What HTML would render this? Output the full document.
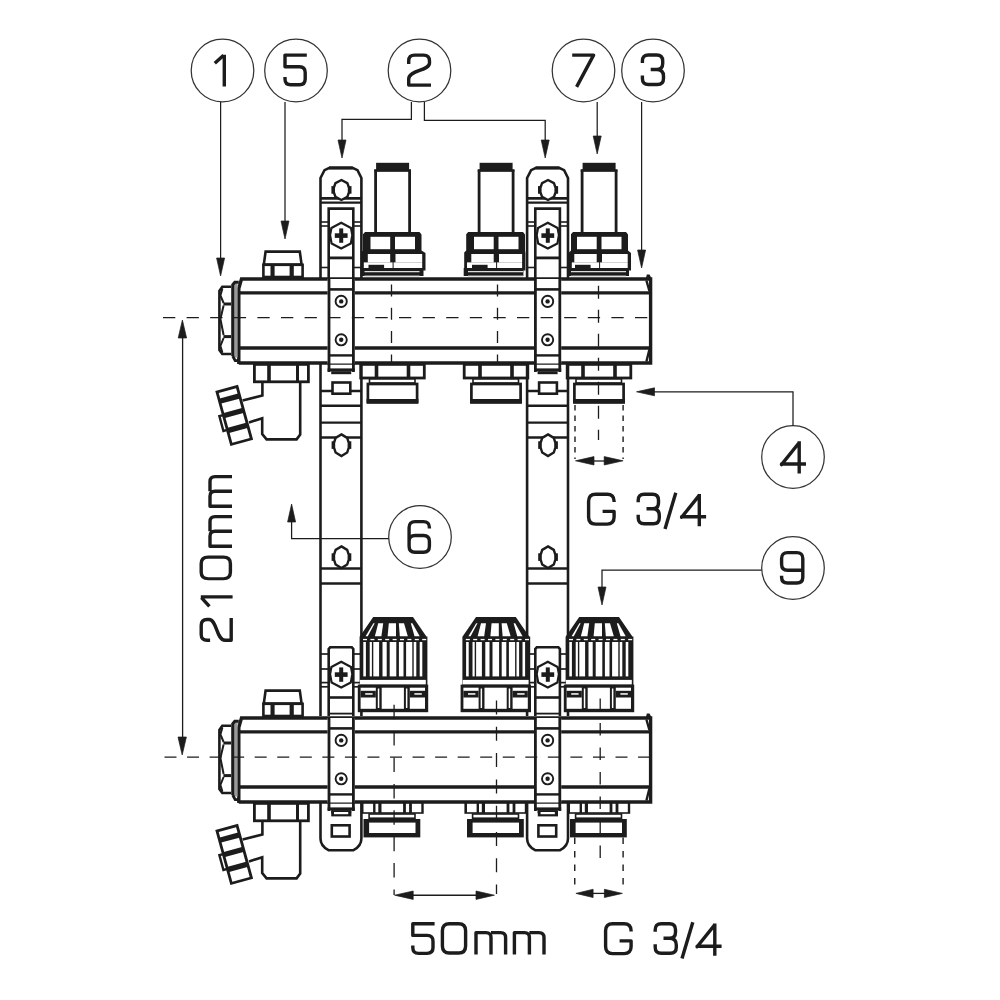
<!DOCTYPE html><html><head><meta charset="utf-8"><style>html,body{margin:0;padding:0;background:#fff}svg{display:block}</style></head><body><svg width="1000" height="1000" viewBox="0 0 1000 1000">
<rect width="1000" height="1000" fill="#fff"/>
<g transform="translate(0,0)">
<path d="M238.8 364 V288.5 L241.5 279 H650.6 V363 H238.8" fill="none" stroke="#1c1c1c" stroke-width="3.4" />
<path d="M646.4 280.5 L649.4 291 M649.4 349.5 L646.4 361.5" fill="none" stroke="#1c1c1c" stroke-width="2.4" />
<polygon points="645.8,279 646.8,274.4 649.6,274.4 652,279.5" fill="#1c1c1c"/>
<line x1="239" y1="292.8" x2="650.6" y2="292.8" stroke="#1c1c1c" stroke-width="3.3" />
<line x1="239" y1="348" x2="650.6" y2="348" stroke="#1c1c1c" stroke-width="3.3" />
<rect x="234" y="283.5" width="3.6" height="74" fill="#9a9a9a"/>
<path d="M232.7 356 V284.8 L234.8 282.2 H238.8" fill="none" stroke="#1c1c1c" stroke-width="3" />
<path d="M232.7 356 L235.2 360.6 H239" fill="none" stroke="#1c1c1c" stroke-width="2.8" />
<path d="M231 286.8 H222.3 L219.4 291 V350 L222.3 354 H231" fill="none" stroke="#1c1c1c" stroke-width="2.6" />
<line x1="223.4" y1="304" x2="231" y2="304" stroke="#1c1c1c" stroke-width="3" />
<line x1="223.4" y1="336.6" x2="231" y2="336.6" stroke="#1c1c1c" stroke-width="3" />
<path d="M222.4 288.5 L220.4 295.5 L223.6 303" fill="none" stroke="#1c1c1c" stroke-width="2" />
<path d="M223.6 305.5 L220.4 319 L223.6 335" fill="none" stroke="#1c1c1c" stroke-width="2" />
<path d="M223.6 338 L220.4 346 L222.4 352.5" fill="none" stroke="#1c1c1c" stroke-width="2" />
<path d="M265.6 251.6 H299.8 L301.6 264.6 H263.8 Z" fill="none" stroke="#1c1c1c" stroke-width="2.6" />
<rect x="263.4" y="264.8" width="39.2" height="12.2" fill="none" stroke="#1c1c1c" stroke-width="2.6" />
<rect x="270.5" y="265" width="4.1" height="12" fill="#1c1c1c"/>
<rect x="289.6" y="265" width="4.2" height="12" fill="#1c1c1c"/>
<rect x="254.4" y="364.4" width="54" height="17.4" fill="none" stroke="#1c1c1c" stroke-width="2.8" />
<rect x="267.2" y="364.5" width="3.6" height="17.3" fill="#1c1c1c"/>
<rect x="296" y="364.5" width="3" height="17.3" fill="#1c1c1c"/>
<path d="M262.4 382 V395.5 L242.6 400.4" fill="none" stroke="#1c1c1c" stroke-width="2.6" />
<path d="M249 422.4 L262.2 418.2 V434 L266.6 439.4 H296.6 L300.2 434.6 V382" fill="none" stroke="#1c1c1c" stroke-width="2.6" />
<g transform="translate(234.2,415.4) rotate(-15.3)">
<rect x="-10.4" y="-27.2" width="20.8" height="54.4" fill="none" stroke="#1c1c1c" stroke-width="2.8" />
<rect x="-10.4" y="-20.2" width="20.8" height="5.4" fill="#1c1c1c"/>
<rect x="-10.4" y="-5.2" width="20.8" height="5.4" fill="#1c1c1c"/>
<rect x="-10.4" y="10.2" width="20.8" height="5.4" fill="#1c1c1c"/>
<path d="M-10.4 -3.2 H-14.5 V12.2 H-10.4" fill="none" stroke="#1c1c1c" stroke-width="2.4" />
</g>
<rect x="360.7" y="364.4" width="63.6" height="13.6" fill="none" stroke="#1c1c1c" stroke-width="2.8" />
<rect x="374.7" y="364" width="3.6" height="14.6" fill="#1c1c1c"/>
<rect x="406.7" y="364" width="3.6" height="14.6" fill="#1c1c1c"/>
<rect x="369.5" y="378.8" width="45.5" height="4.2" fill="none" stroke="#1c1c1c" stroke-width="1.6" />
<rect x="367.9" y="384" width="49.2" height="17.8" fill="none" stroke="#1c1c1c" stroke-width="2.7" />
<rect x="366.6" y="399" width="51.8" height="4.8" fill="#1c1c1c"/>
<rect x="464.2" y="364.4" width="63.6" height="13.6" fill="none" stroke="#1c1c1c" stroke-width="2.8" />
<rect x="478.2" y="364" width="3.6" height="14.6" fill="#1c1c1c"/>
<rect x="510.2" y="364" width="3.6" height="14.6" fill="#1c1c1c"/>
<rect x="473" y="378.8" width="45.5" height="4.2" fill="none" stroke="#1c1c1c" stroke-width="1.6" />
<rect x="471.4" y="384" width="49.2" height="17.8" fill="none" stroke="#1c1c1c" stroke-width="2.7" />
<rect x="470.1" y="399" width="51.8" height="4.8" fill="#1c1c1c"/>
<rect x="567.2" y="364.4" width="63.6" height="13.6" fill="none" stroke="#1c1c1c" stroke-width="2.8" />
<rect x="581.2" y="364" width="3.6" height="14.6" fill="#1c1c1c"/>
<rect x="613.2" y="364" width="3.6" height="14.6" fill="#1c1c1c"/>
<rect x="576" y="378.8" width="45.5" height="4.2" fill="none" stroke="#1c1c1c" stroke-width="1.6" />
<rect x="574.4" y="384" width="49.2" height="17.8" fill="none" stroke="#1c1c1c" stroke-width="2.7" />
<rect x="573.1" y="399" width="51.8" height="4.8" fill="#1c1c1c"/>
<rect x="327.6" y="279" width="27.2" height="84.5" fill="#fff"/>
<path d="M329 279 V372 M353.4 279 V372" fill="none" stroke="#1c1c1c" stroke-width="2.8" />
<line x1="329" y1="289.4" x2="353.4" y2="289.4" stroke="#1c1c1c" stroke-width="2.6" />
<line x1="329" y1="355.4" x2="353.4" y2="355.4" stroke="#1c1c1c" stroke-width="2.4" />
<rect x="327.6" y="368.4" width="27.2" height="3" fill="#1c1c1c"/>
<rect x="331.2" y="371.2" width="20" height="3" fill="#1c1c1c"/>
<circle cx="341.2" cy="301.4" r="5.6" fill="none" stroke="#1c1c1c" stroke-width="1.9"/>
<circle cx="341.2" cy="301.4" r="2.2" fill="#1c1c1c"/>
<circle cx="341.2" cy="339.8" r="5.6" fill="none" stroke="#1c1c1c" stroke-width="1.9"/>
<circle cx="341.2" cy="339.8" r="2.2" fill="#1c1c1c"/>
<rect x="534" y="279" width="27.2" height="84.5" fill="#fff"/>
<path d="M535.4 279 V372 M559.8 279 V372" fill="none" stroke="#1c1c1c" stroke-width="2.8" />
<line x1="535.4" y1="289.4" x2="559.8" y2="289.4" stroke="#1c1c1c" stroke-width="2.6" />
<line x1="535.4" y1="355.4" x2="559.8" y2="355.4" stroke="#1c1c1c" stroke-width="2.4" />
<rect x="534" y="368.4" width="27.2" height="3" fill="#1c1c1c"/>
<rect x="537.6" y="371.2" width="20" height="3" fill="#1c1c1c"/>
<circle cx="547.6" cy="301.4" r="5.6" fill="none" stroke="#1c1c1c" stroke-width="1.9"/>
<circle cx="547.6" cy="301.4" r="2.2" fill="#1c1c1c"/>
<circle cx="547.6" cy="339.8" r="5.6" fill="none" stroke="#1c1c1c" stroke-width="1.9"/>
<circle cx="547.6" cy="339.8" r="2.2" fill="#1c1c1c"/>
<line x1="163" y1="317.6" x2="650" y2="317.6" stroke="#1c1c1c" stroke-width="1.3" stroke-dasharray="12.3 11.3"/>
</g>
<g transform="translate(0,439)">
<path d="M238.8 364 V288.5 L241.5 279 H650.6 V363 H238.8" fill="none" stroke="#1c1c1c" stroke-width="3.4" />
<path d="M646.4 280.5 L649.4 291 M649.4 349.5 L646.4 361.5" fill="none" stroke="#1c1c1c" stroke-width="2.4" />
<polygon points="645.8,279 646.8,274.4 649.6,274.4 652,279.5" fill="#1c1c1c"/>
<line x1="239" y1="292.8" x2="650.6" y2="292.8" stroke="#1c1c1c" stroke-width="3.3" />
<line x1="239" y1="348" x2="650.6" y2="348" stroke="#1c1c1c" stroke-width="3.3" />
<rect x="234" y="283.5" width="3.6" height="74" fill="#9a9a9a"/>
<path d="M232.7 356 V284.8 L234.8 282.2 H238.8" fill="none" stroke="#1c1c1c" stroke-width="3" />
<path d="M232.7 356 L235.2 360.6 H239" fill="none" stroke="#1c1c1c" stroke-width="2.8" />
<path d="M231 286.8 H222.3 L219.4 291 V350 L222.3 354 H231" fill="none" stroke="#1c1c1c" stroke-width="2.6" />
<line x1="223.4" y1="304" x2="231" y2="304" stroke="#1c1c1c" stroke-width="3" />
<line x1="223.4" y1="336.6" x2="231" y2="336.6" stroke="#1c1c1c" stroke-width="3" />
<path d="M222.4 288.5 L220.4 295.5 L223.6 303" fill="none" stroke="#1c1c1c" stroke-width="2" />
<path d="M223.6 305.5 L220.4 319 L223.6 335" fill="none" stroke="#1c1c1c" stroke-width="2" />
<path d="M223.6 338 L220.4 346 L222.4 352.5" fill="none" stroke="#1c1c1c" stroke-width="2" />
<path d="M265.6 251.6 H299.8 L301.6 264.6 H263.8 Z" fill="none" stroke="#1c1c1c" stroke-width="2.6" />
<rect x="263.4" y="264.8" width="39.2" height="12.2" fill="none" stroke="#1c1c1c" stroke-width="2.6" />
<rect x="270.5" y="265" width="4.1" height="12" fill="#1c1c1c"/>
<rect x="289.6" y="265" width="4.2" height="12" fill="#1c1c1c"/>
<rect x="254.4" y="364.4" width="54" height="17.4" fill="none" stroke="#1c1c1c" stroke-width="2.8" />
<rect x="267.2" y="364.5" width="3.6" height="17.3" fill="#1c1c1c"/>
<rect x="296" y="364.5" width="3" height="17.3" fill="#1c1c1c"/>
<path d="M262.4 382 V395.5 L242.6 400.4" fill="none" stroke="#1c1c1c" stroke-width="2.6" />
<path d="M249 422.4 L262.2 418.2 V434 L266.6 439.4 H296.6 L300.2 434.6 V382" fill="none" stroke="#1c1c1c" stroke-width="2.6" />
<g transform="translate(234.2,415.4) rotate(-15.3)">
<rect x="-10.4" y="-27.2" width="20.8" height="54.4" fill="none" stroke="#1c1c1c" stroke-width="2.8" />
<rect x="-10.4" y="-20.2" width="20.8" height="5.4" fill="#1c1c1c"/>
<rect x="-10.4" y="-5.2" width="20.8" height="5.4" fill="#1c1c1c"/>
<rect x="-10.4" y="10.2" width="20.8" height="5.4" fill="#1c1c1c"/>
<path d="M-10.4 -3.2 H-14.5 V12.2 H-10.4" fill="none" stroke="#1c1c1c" stroke-width="2.4" />
</g>
<rect x="360.9" y="363" width="62.8" height="11.8" fill="#1c1c1c"/>
<rect x="363.5" y="364.8" width="9.6" height="8.4" fill="#fff"/>
<rect x="375.5" y="364.8" width="2.8" height="8.4" fill="#fff"/>
<rect x="381.5" y="364.8" width="21.6" height="8.4" fill="#fff"/>
<rect x="405.9" y="364.8" width="3.2" height="8.4" fill="#fff"/>
<rect x="411.9" y="364.8" width="9.4" height="8.4" fill="#fff"/>
<rect x="369.1" y="375" width="45.9" height="4.2" fill="none" stroke="#1c1c1c" stroke-width="1.6" />
<rect x="363.5" y="380" width="56.8" height="18.4" fill="#1c1c1c"/>
<rect x="369.1" y="383.6" width="46.4" height="10.4" fill="#fff"/>
<rect x="464.4" y="363" width="62.8" height="11.8" fill="#1c1c1c"/>
<rect x="467" y="364.8" width="9.6" height="8.4" fill="#fff"/>
<rect x="479" y="364.8" width="2.8" height="8.4" fill="#fff"/>
<rect x="485" y="364.8" width="21.6" height="8.4" fill="#fff"/>
<rect x="509.4" y="364.8" width="3.2" height="8.4" fill="#fff"/>
<rect x="515.4" y="364.8" width="9.4" height="8.4" fill="#fff"/>
<rect x="472.6" y="375" width="45.9" height="4.2" fill="none" stroke="#1c1c1c" stroke-width="1.6" />
<rect x="467" y="380" width="56.8" height="18.4" fill="#1c1c1c"/>
<rect x="472.6" y="383.6" width="46.4" height="10.4" fill="#fff"/>
<rect x="567.4" y="363" width="62.8" height="11.8" fill="#1c1c1c"/>
<rect x="570" y="364.8" width="9.6" height="8.4" fill="#fff"/>
<rect x="582" y="364.8" width="2.8" height="8.4" fill="#fff"/>
<rect x="588" y="364.8" width="21.6" height="8.4" fill="#fff"/>
<rect x="612.4" y="364.8" width="3.2" height="8.4" fill="#fff"/>
<rect x="618.4" y="364.8" width="9.4" height="8.4" fill="#fff"/>
<rect x="575.6" y="375" width="45.9" height="4.2" fill="none" stroke="#1c1c1c" stroke-width="1.6" />
<rect x="570" y="380" width="56.8" height="18.4" fill="#1c1c1c"/>
<rect x="575.6" y="383.6" width="46.4" height="10.4" fill="#fff"/>
<rect x="327.6" y="279" width="27.2" height="84.5" fill="#fff"/>
<path d="M329 279 V372 M353.4 279 V372" fill="none" stroke="#1c1c1c" stroke-width="2.8" />
<line x1="329" y1="289.4" x2="353.4" y2="289.4" stroke="#1c1c1c" stroke-width="2.6" />
<line x1="329" y1="355.4" x2="353.4" y2="355.4" stroke="#1c1c1c" stroke-width="2.4" />
<rect x="327.6" y="368.4" width="27.2" height="3" fill="#1c1c1c"/>
<rect x="331.2" y="371.2" width="20" height="3" fill="#1c1c1c"/>
<circle cx="341.2" cy="301.4" r="5.6" fill="none" stroke="#1c1c1c" stroke-width="1.9"/>
<circle cx="341.2" cy="301.4" r="2.2" fill="#1c1c1c"/>
<circle cx="341.2" cy="339.8" r="5.6" fill="none" stroke="#1c1c1c" stroke-width="1.9"/>
<circle cx="341.2" cy="339.8" r="2.2" fill="#1c1c1c"/>
<rect x="534" y="279" width="27.2" height="84.5" fill="#fff"/>
<path d="M535.4 279 V372 M559.8 279 V372" fill="none" stroke="#1c1c1c" stroke-width="2.8" />
<line x1="535.4" y1="289.4" x2="559.8" y2="289.4" stroke="#1c1c1c" stroke-width="2.6" />
<line x1="535.4" y1="355.4" x2="559.8" y2="355.4" stroke="#1c1c1c" stroke-width="2.4" />
<rect x="534" y="368.4" width="27.2" height="3" fill="#1c1c1c"/>
<rect x="537.6" y="371.2" width="20" height="3" fill="#1c1c1c"/>
<circle cx="547.6" cy="301.4" r="5.6" fill="none" stroke="#1c1c1c" stroke-width="1.9"/>
<circle cx="547.6" cy="301.4" r="2.2" fill="#1c1c1c"/>
<circle cx="547.6" cy="339.8" r="5.6" fill="none" stroke="#1c1c1c" stroke-width="1.9"/>
<circle cx="547.6" cy="339.8" r="2.2" fill="#1c1c1c"/>
<line x1="164.5" y1="318.2" x2="650" y2="318.2" stroke="#1c1c1c" stroke-width="1.3" stroke-dasharray="12 10.55"/>
</g>
<path d="M320.5 278 V178 L324.5 170.2 L329 168 H353 L357.5 170.2 L361.4 178 V278" fill="none" stroke="#1c1c1c" stroke-width="2.6" />
<line x1="329" y1="167.9" x2="352.8" y2="167.9" stroke="#1c1c1c" stroke-width="3.2" />
<line x1="320.5" y1="198.3" x2="361.4" y2="198.3" stroke="#1c1c1c" stroke-width="2.7" />
<line x1="320.5" y1="202.7" x2="361.4" y2="202.7" stroke="#1c1c1c" stroke-width="2.3" />
<rect x="331.4" y="186.1" width="20.1" height="7.6" fill="#1c1c1c"/>
<path d="M341.4 180 L347.33 183.2 L349 187.8 L349 192.2 L347.33 196.8 L341.4 200 L335.47 196.8 L333.8 192.2 L333.8 187.8 L335.47 183.2 Z" fill="#fff" stroke="#1c1c1c" stroke-width="2.4" />
<path d="M328.7 278 V208.6 H353.3 V278" fill="none" stroke="#1c1c1c" stroke-width="2.6" />
<line x1="320.5" y1="222" x2="328.7" y2="222" stroke="#1c1c1c" stroke-width="1.6" />
<line x1="353.3" y1="222" x2="361.4" y2="222" stroke="#1c1c1c" stroke-width="1.6" />
<line x1="320.5" y1="226" x2="328.7" y2="226" stroke="#1c1c1c" stroke-width="1.6" />
<line x1="353.3" y1="226" x2="361.4" y2="226" stroke="#1c1c1c" stroke-width="1.6" />
<line x1="320.5" y1="267.5" x2="328.7" y2="267.5" stroke="#1c1c1c" stroke-width="1.6" />
<line x1="353.3" y1="267.5" x2="361.4" y2="267.5" stroke="#1c1c1c" stroke-width="1.6" />
<path d="M341.2 222.8 L351 228 L352.3 235.1 L350.8 243.6 L341.2 248.5 L331.6 243.6 L330.1 235.1 L331.4 228 Z" fill="#fff" stroke="#1c1c1c" stroke-width="2.2" />
<rect x="339.2" y="228.4" width="4" height="14.4" fill="#1c1c1c"/>
<rect x="334.8" y="233.3" width="12.8" height="4.6" fill="#1c1c1c"/>
<line x1="328.7" y1="257.9" x2="353.3" y2="257.9" stroke="#1c1c1c" stroke-width="2.8" />
<line x1="320.5" y1="364" x2="320.5" y2="716" stroke="#1c1c1c" stroke-width="2.6" />
<line x1="361.4" y1="364" x2="361.4" y2="716" stroke="#1c1c1c" stroke-width="2.6" />
<line x1="320.5" y1="391" x2="361.4" y2="391" stroke="#1c1c1c" stroke-width="2.4" />
<line x1="320.5" y1="405.8" x2="361.4" y2="405.8" stroke="#1c1c1c" stroke-width="2.4" />
<line x1="320.5" y1="422.6" x2="361.4" y2="422.6" stroke="#1c1c1c" stroke-width="2.4" />
<line x1="320.5" y1="437.5" x2="361.4" y2="437.5" stroke="#1c1c1c" stroke-width="2.4" />
<line x1="320.5" y1="568.5" x2="361.4" y2="568.5" stroke="#1c1c1c" stroke-width="2.4" />
<line x1="320.5" y1="583.5" x2="361.4" y2="583.5" stroke="#1c1c1c" stroke-width="2.4" />
<rect x="332.5" y="382.5" width="17.8" height="11.2" fill="#fff" stroke="#1c1c1c" stroke-width="2.6" />
<rect x="331.6" y="441.3" width="19.7" height="7.6" fill="#1c1c1c"/>
<path d="M341.4 434.4 L347.17 437.86 L348.8 442.82 L348.8 447.58 L347.17 452.54 L341.4 456 L335.63 452.54 L334 447.58 L334 442.82 L335.63 437.86 Z" fill="#fff" stroke="#1c1c1c" stroke-width="2.4" />
<rect x="331.6" y="553.3" width="19.7" height="7.6" fill="#1c1c1c"/>
<path d="M341.4 546.4 L347.17 549.86 L348.8 554.82 L348.8 559.58 L347.17 564.54 L341.4 568 L335.63 564.54 L334 559.58 L334 554.82 L335.63 549.86 Z" fill="#fff" stroke="#1c1c1c" stroke-width="2.4" />
<path d="M328.7 716 V649 L330.2 647.3 H351.8 L353.3 649 V716" fill="#fff" stroke="#1c1c1c" stroke-width="2.6"/>
<line x1="320.5" y1="654" x2="328.7" y2="654" stroke="#1c1c1c" stroke-width="1.7" />
<line x1="353.3" y1="654" x2="361.4" y2="654" stroke="#1c1c1c" stroke-width="1.7" />
<line x1="320.5" y1="669" x2="328.7" y2="669" stroke="#1c1c1c" stroke-width="1.7" />
<line x1="353.3" y1="669" x2="361.4" y2="669" stroke="#1c1c1c" stroke-width="1.7" />
<line x1="320.5" y1="682.6" x2="328.7" y2="682.6" stroke="#1c1c1c" stroke-width="1.7" />
<line x1="353.3" y1="682.6" x2="361.4" y2="682.6" stroke="#1c1c1c" stroke-width="1.7" />
<line x1="320.5" y1="686.8" x2="328.7" y2="686.8" stroke="#1c1c1c" stroke-width="1.7" />
<line x1="353.3" y1="686.8" x2="361.4" y2="686.8" stroke="#1c1c1c" stroke-width="1.7" />
<line x1="328.7" y1="713.6" x2="353.3" y2="713.6" stroke="#1c1c1c" stroke-width="1.8" />
<path d="M341.2 661.8 L351 667 L352.3 674.1 L350.8 682.6 L341.2 687.5 L331.6 682.6 L330.1 674.1 L331.4 667 Z" fill="#fff" stroke="#1c1c1c" stroke-width="2.2" />
<rect x="339.2" y="667.4" width="4" height="14.4" fill="#1c1c1c"/>
<rect x="334.8" y="672.3" width="12.8" height="4.6" fill="#1c1c1c"/>
<line x1="328.7" y1="697.5" x2="353.3" y2="697.5" stroke="#1c1c1c" stroke-width="2.6" />
<path d="M320.5 803 V838.5 Q320.5 846 328.5 850.2 H353.5 Q361.4 846 361.4 838.5 V803" fill="none" stroke="#1c1c1c" stroke-width="2.6" />
<rect x="331.8" y="825.3" width="17.8" height="11.2" fill="none" stroke="#1c1c1c" stroke-width="2.6" />
<rect x="331.2" y="810.4" width="20.2" height="6" fill="#1c1c1c"/>
<rect x="334" y="812" width="14.2" height="2.2" fill="#fff"/>
<path d="M527.1 278 V178 L531.1 170.2 L535.6 168 H559.6 L564.1 170.2 L568 178 V278" fill="none" stroke="#1c1c1c" stroke-width="2.6" />
<line x1="535.6" y1="167.9" x2="559.4" y2="167.9" stroke="#1c1c1c" stroke-width="3.2" />
<line x1="527.1" y1="198.3" x2="568" y2="198.3" stroke="#1c1c1c" stroke-width="2.7" />
<line x1="527.1" y1="202.7" x2="568" y2="202.7" stroke="#1c1c1c" stroke-width="2.3" />
<rect x="538" y="186.1" width="20.1" height="7.6" fill="#1c1c1c"/>
<path d="M548 180 L553.93 183.2 L555.6 187.8 L555.6 192.2 L553.93 196.8 L548 200 L542.07 196.8 L540.4 192.2 L540.4 187.8 L542.07 183.2 Z" fill="#fff" stroke="#1c1c1c" stroke-width="2.4" />
<path d="M535.3 278 V208.6 H559.9 V278" fill="none" stroke="#1c1c1c" stroke-width="2.6" />
<line x1="527.1" y1="222" x2="535.3" y2="222" stroke="#1c1c1c" stroke-width="1.6" />
<line x1="559.9" y1="222" x2="568" y2="222" stroke="#1c1c1c" stroke-width="1.6" />
<line x1="527.1" y1="226" x2="535.3" y2="226" stroke="#1c1c1c" stroke-width="1.6" />
<line x1="559.9" y1="226" x2="568" y2="226" stroke="#1c1c1c" stroke-width="1.6" />
<line x1="527.1" y1="267.5" x2="535.3" y2="267.5" stroke="#1c1c1c" stroke-width="1.6" />
<line x1="559.9" y1="267.5" x2="568" y2="267.5" stroke="#1c1c1c" stroke-width="1.6" />
<path d="M547.8 222.8 L557.6 228 L558.9 235.1 L557.4 243.6 L547.8 248.5 L538.2 243.6 L536.7 235.1 L538 228 Z" fill="#fff" stroke="#1c1c1c" stroke-width="2.2" />
<rect x="545.8" y="228.4" width="4" height="14.4" fill="#1c1c1c"/>
<rect x="541.4" y="233.3" width="12.8" height="4.6" fill="#1c1c1c"/>
<line x1="535.3" y1="257.9" x2="559.9" y2="257.9" stroke="#1c1c1c" stroke-width="2.8" />
<line x1="527.1" y1="364" x2="527.1" y2="716" stroke="#1c1c1c" stroke-width="2.6" />
<line x1="568" y1="364" x2="568" y2="716" stroke="#1c1c1c" stroke-width="2.6" />
<line x1="527.1" y1="391" x2="568" y2="391" stroke="#1c1c1c" stroke-width="2.4" />
<line x1="527.1" y1="405.8" x2="568" y2="405.8" stroke="#1c1c1c" stroke-width="2.4" />
<line x1="527.1" y1="422.6" x2="568" y2="422.6" stroke="#1c1c1c" stroke-width="2.4" />
<line x1="527.1" y1="437.5" x2="568" y2="437.5" stroke="#1c1c1c" stroke-width="2.4" />
<line x1="527.1" y1="568.5" x2="568" y2="568.5" stroke="#1c1c1c" stroke-width="2.4" />
<line x1="527.1" y1="583.5" x2="568" y2="583.5" stroke="#1c1c1c" stroke-width="2.4" />
<rect x="539.1" y="382.5" width="17.8" height="11.2" fill="#fff" stroke="#1c1c1c" stroke-width="2.6" />
<rect x="538.2" y="441.3" width="19.7" height="7.6" fill="#1c1c1c"/>
<path d="M548 434.4 L553.77 437.86 L555.4 442.82 L555.4 447.58 L553.77 452.54 L548 456 L542.23 452.54 L540.6 447.58 L540.6 442.82 L542.23 437.86 Z" fill="#fff" stroke="#1c1c1c" stroke-width="2.4" />
<rect x="538.2" y="553.3" width="19.7" height="7.6" fill="#1c1c1c"/>
<path d="M548 546.4 L553.77 549.86 L555.4 554.82 L555.4 559.58 L553.77 564.54 L548 568 L542.23 564.54 L540.6 559.58 L540.6 554.82 L542.23 549.86 Z" fill="#fff" stroke="#1c1c1c" stroke-width="2.4" />
<path d="M535.3 716 V649 L536.8 647.3 H558.4 L559.9 649 V716" fill="#fff" stroke="#1c1c1c" stroke-width="2.6"/>
<line x1="527.1" y1="654" x2="535.3" y2="654" stroke="#1c1c1c" stroke-width="1.7" />
<line x1="559.9" y1="654" x2="568" y2="654" stroke="#1c1c1c" stroke-width="1.7" />
<line x1="527.1" y1="669" x2="535.3" y2="669" stroke="#1c1c1c" stroke-width="1.7" />
<line x1="559.9" y1="669" x2="568" y2="669" stroke="#1c1c1c" stroke-width="1.7" />
<line x1="527.1" y1="682.6" x2="535.3" y2="682.6" stroke="#1c1c1c" stroke-width="1.7" />
<line x1="559.9" y1="682.6" x2="568" y2="682.6" stroke="#1c1c1c" stroke-width="1.7" />
<line x1="527.1" y1="686.8" x2="535.3" y2="686.8" stroke="#1c1c1c" stroke-width="1.7" />
<line x1="559.9" y1="686.8" x2="568" y2="686.8" stroke="#1c1c1c" stroke-width="1.7" />
<line x1="535.3" y1="713.6" x2="559.9" y2="713.6" stroke="#1c1c1c" stroke-width="1.8" />
<path d="M547.8 661.8 L557.6 667 L558.9 674.1 L557.4 682.6 L547.8 687.5 L538.2 682.6 L536.7 674.1 L538 667 Z" fill="#fff" stroke="#1c1c1c" stroke-width="2.2" />
<rect x="545.8" y="667.4" width="4" height="14.4" fill="#1c1c1c"/>
<rect x="541.4" y="672.3" width="12.8" height="4.6" fill="#1c1c1c"/>
<line x1="535.3" y1="697.5" x2="559.9" y2="697.5" stroke="#1c1c1c" stroke-width="2.6" />
<path d="M527.1 803 V838.5 Q527.1 846 535.1 850.2 H560.1 Q568 846 568 838.5 V803" fill="none" stroke="#1c1c1c" stroke-width="2.6" />
<rect x="538.4" y="825.3" width="17.8" height="11.2" fill="none" stroke="#1c1c1c" stroke-width="2.6" />
<rect x="537.8" y="810.4" width="20.2" height="6" fill="#1c1c1c"/>
<rect x="540.6" y="812" width="14.2" height="2.2" fill="#fff"/>
<rect x="376.1" y="162.8" width="33" height="8.8" fill="#1c1c1c"/>
<rect x="374.2" y="169.2" width="36.8" height="2.4" fill="#1c1c1c"/>
<path d="M375.6 170 V232.5 M409.6 170 V232.5" fill="none" stroke="#1c1c1c" stroke-width="2.8" />
<polygon points="363,234.2 365,232 419.5,232 421.5,234.5 421.5,250.5 425.5,253 425.5,270.6 361,270.6 361,252.5 363,250.5" fill="#1c1c1c"/>
<rect x="370.5" y="236.8" width="19.7" height="12.4" fill="#fff"/>
<rect x="395" y="236.8" width="20" height="12.4" fill="#fff"/>
<rect x="367.8" y="254" width="22.4" height="8.5" fill="#fff"/>
<rect x="395.5" y="254" width="26.7" height="8.5" fill="#fff"/>
<rect x="363.8" y="262.4" width="58.4" height="5.6" fill="#fff"/>
<line x1="393.1" y1="262" x2="393.1" y2="268" stroke="#1c1c1c" stroke-width="1" />
<rect x="368.5" y="264.8" width="15.6" height="3.2" fill="#1c1c1c"/>
<rect x="360.5" y="268" width="63" height="8" fill="#1c1c1c"/>
<line x1="364.5" y1="271.6" x2="419.5" y2="271.6" stroke="#ddd" stroke-width="1.4" />
<line x1="364.5" y1="275.8" x2="419.5" y2="275.8" stroke="#999" stroke-width="1" />
<rect x="479.6" y="162.8" width="33" height="8.8" fill="#1c1c1c"/>
<rect x="477.7" y="169.2" width="36.8" height="2.4" fill="#1c1c1c"/>
<path d="M479.1 170 V232.5 M513.1 170 V232.5" fill="none" stroke="#1c1c1c" stroke-width="2.8" />
<polygon points="466.2,234.2 468.2,232 523,232 525,234.5 525,250.5 525.4,253 525.4,270.6 464.2,270.6 464.2,252.5 466.2,250.5" fill="#1c1c1c"/>
<rect x="474" y="236.8" width="19.7" height="12.4" fill="#fff"/>
<rect x="498.5" y="236.8" width="20" height="12.4" fill="#fff"/>
<rect x="471.3" y="254" width="22.4" height="8.5" fill="#fff"/>
<rect x="499" y="254" width="23.1" height="8.5" fill="#fff"/>
<rect x="467" y="262.4" width="55.1" height="5.6" fill="#fff"/>
<line x1="496.6" y1="262" x2="496.6" y2="268" stroke="#1c1c1c" stroke-width="1" />
<rect x="472" y="264.8" width="15.6" height="3.2" fill="#1c1c1c"/>
<rect x="463.7" y="268" width="59.7" height="8" fill="#1c1c1c"/>
<line x1="468" y1="271.6" x2="523" y2="271.6" stroke="#ddd" stroke-width="1.4" />
<line x1="468" y1="275.8" x2="523" y2="275.8" stroke="#999" stroke-width="1" />
<rect x="582.6" y="162.8" width="33" height="8.8" fill="#1c1c1c"/>
<rect x="580.7" y="169.2" width="36.8" height="2.4" fill="#1c1c1c"/>
<path d="M582.1 170 V232.5 M616.1 170 V232.5" fill="none" stroke="#1c1c1c" stroke-width="2.8" />
<polygon points="571,234.2 573,232 626,232 628,234.5 628,250.5 631,253 631,270.6 569,270.6 569,252.5 571,250.5" fill="#1c1c1c"/>
<rect x="577" y="236.8" width="19.7" height="12.4" fill="#fff"/>
<rect x="601.5" y="236.8" width="20" height="12.4" fill="#fff"/>
<rect x="574.3" y="254" width="22.4" height="8.5" fill="#fff"/>
<rect x="602" y="254" width="25.7" height="8.5" fill="#fff"/>
<rect x="571.8" y="262.4" width="55.9" height="5.6" fill="#fff"/>
<line x1="599.6" y1="262" x2="599.6" y2="268" stroke="#1c1c1c" stroke-width="1" />
<rect x="575" y="264.8" width="15.6" height="3.2" fill="#1c1c1c"/>
<rect x="568.5" y="268" width="60.5" height="8" fill="#1c1c1c"/>
<line x1="571" y1="271.6" x2="626" y2="271.6" stroke="#ddd" stroke-width="1.4" />
<line x1="571" y1="275.8" x2="626" y2="275.8" stroke="#999" stroke-width="1" />
<polygon points="373.2,617 413,617 426.4,636.4 427.4,636.4 427.4,686.8 359.6,686.8 359.6,636.4 359.8,636.4" fill="#1c1c1c"/>
<polygon points="373.4,623.2 374.7,623.2 367.8,636.2 365.6,636.2" fill="#fff"/>
<polygon points="378.2,623.2 383.2,623.2 381.4,636.2 374.9,636.2" fill="#fff"/>
<polygon points="388.8,623.2 396,623.2 396,636.2 387.6,636.2" fill="#fff"/>
<polygon points="398.8,623.2 404,623.2 407.8,636.2 399.8,636.2" fill="#fff"/>
<polygon points="410.8,623.2 412.4,623.2 419.7,636.2 414.5,636.2" fill="#fff"/>
<rect x="363" y="638.9" width="4" height="1.3" fill="#fff"/>
<rect x="370.4" y="638.9" width="4" height="1.3" fill="#fff"/>
<rect x="377.8" y="638.9" width="4" height="1.3" fill="#fff"/>
<rect x="385.2" y="638.9" width="4" height="1.3" fill="#fff"/>
<rect x="392.6" y="638.9" width="4" height="1.3" fill="#fff"/>
<rect x="400" y="638.9" width="4" height="1.3" fill="#fff"/>
<rect x="407.4" y="638.9" width="4" height="1.3" fill="#fff"/>
<rect x="414.8" y="638.9" width="4" height="1.3" fill="#fff"/>
<rect x="422.2" y="638.9" width="4" height="1.3" fill="#fff"/>
<rect x="363.3" y="642" width="2.6" height="34.4" fill="#fff"/>
<rect x="369.7" y="642" width="2.2" height="34.4" fill="#fff"/>
<rect x="373.3" y="642" width="5.8" height="34.4" fill="#fff"/>
<rect x="382.5" y="642" width="4.2" height="34.4" fill="#fff"/>
<rect x="389.7" y="642" width="6.6" height="34.4" fill="#fff"/>
<rect x="398.9" y="642" width="4.6" height="34.4" fill="#fff"/>
<rect x="406.1" y="642" width="6.2" height="34.4" fill="#fff"/>
<rect x="413.7" y="642" width="2.6" height="34.4" fill="#fff"/>
<rect x="419.7" y="642" width="2.6" height="34.4" fill="#fff"/>
<rect x="359.9" y="679.9" width="65.9" height="4.7" fill="#fff"/>
<rect x="357.8" y="684.6" width="70.4" height="27.6" fill="#1c1c1c"/>
<rect x="360.6" y="687.7" width="15.2" height="21.1" fill="#fff"/>
<rect x="381.7" y="687.7" width="22.2" height="21.1" fill="#fff"/>
<rect x="409.8" y="687.7" width="15.2" height="21.1" fill="#fff"/>
<rect x="360.6" y="690.8" width="15.2" height="6.7" fill="#1c1c1c"/>
<rect x="365.2" y="693.2" width="7.4" height="1.5" fill="#fff"/>
<rect x="409.8" y="690.8" width="15.2" height="6.7" fill="#1c1c1c"/>
<rect x="414.4" y="693.2" width="7.4" height="1.5" fill="#fff"/>
<rect x="377.8" y="688.5" width="1.5" height="19.5" fill="#fff"/>
<rect x="405.9" y="688.5" width="1.5" height="19.5" fill="#fff"/>
<polygon points="476,617 515.8,617 529.2,636.4 530.2,636.4 530.2,686.8 462.4,686.8 462.4,636.4 462.6,636.4" fill="#1c1c1c"/>
<polygon points="476.2,623.2 477.5,623.2 470.6,636.2 468.4,636.2" fill="#fff"/>
<polygon points="481,623.2 486,623.2 484.2,636.2 477.7,636.2" fill="#fff"/>
<polygon points="491.6,623.2 498.8,623.2 498.8,636.2 490.4,636.2" fill="#fff"/>
<polygon points="501.6,623.2 506.8,623.2 510.6,636.2 502.6,636.2" fill="#fff"/>
<polygon points="513.6,623.2 515.2,623.2 522.5,636.2 517.3,636.2" fill="#fff"/>
<rect x="465.8" y="638.9" width="4" height="1.3" fill="#fff"/>
<rect x="473.2" y="638.9" width="4" height="1.3" fill="#fff"/>
<rect x="480.6" y="638.9" width="4" height="1.3" fill="#fff"/>
<rect x="488" y="638.9" width="4" height="1.3" fill="#fff"/>
<rect x="495.4" y="638.9" width="4" height="1.3" fill="#fff"/>
<rect x="502.8" y="638.9" width="4" height="1.3" fill="#fff"/>
<rect x="510.2" y="638.9" width="4" height="1.3" fill="#fff"/>
<rect x="517.6" y="638.9" width="4" height="1.3" fill="#fff"/>
<rect x="525" y="638.9" width="4" height="1.3" fill="#fff"/>
<rect x="466.1" y="642" width="2.6" height="34.4" fill="#fff"/>
<rect x="472.5" y="642" width="2.2" height="34.4" fill="#fff"/>
<rect x="476.1" y="642" width="5.8" height="34.4" fill="#fff"/>
<rect x="485.3" y="642" width="4.2" height="34.4" fill="#fff"/>
<rect x="492.5" y="642" width="6.6" height="34.4" fill="#fff"/>
<rect x="501.7" y="642" width="4.6" height="34.4" fill="#fff"/>
<rect x="508.9" y="642" width="6.2" height="34.4" fill="#fff"/>
<rect x="516.5" y="642" width="2.6" height="34.4" fill="#fff"/>
<rect x="522.5" y="642" width="2.6" height="34.4" fill="#fff"/>
<rect x="462.7" y="679.9" width="65.9" height="4.7" fill="#fff"/>
<rect x="460.6" y="684.6" width="70.4" height="27.6" fill="#1c1c1c"/>
<rect x="463.4" y="687.7" width="15.2" height="21.1" fill="#fff"/>
<rect x="484.5" y="687.7" width="22.2" height="21.1" fill="#fff"/>
<rect x="512.6" y="687.7" width="15.2" height="21.1" fill="#fff"/>
<rect x="463.4" y="690.8" width="15.2" height="6.7" fill="#1c1c1c"/>
<rect x="468" y="693.2" width="7.4" height="1.5" fill="#fff"/>
<rect x="512.6" y="690.8" width="15.2" height="6.7" fill="#1c1c1c"/>
<rect x="517.2" y="693.2" width="7.4" height="1.5" fill="#fff"/>
<rect x="480.6" y="688.5" width="1.5" height="19.5" fill="#fff"/>
<rect x="508.7" y="688.5" width="1.5" height="19.5" fill="#fff"/>
<polygon points="579.2,617 619,617 632.4,636.4 633.4,636.4 633.4,686.8 565.6,686.8 565.6,636.4 565.8,636.4" fill="#1c1c1c"/>
<polygon points="579.4,623.2 580.7,623.2 573.8,636.2 571.6,636.2" fill="#fff"/>
<polygon points="584.2,623.2 589.2,623.2 587.4,636.2 580.9,636.2" fill="#fff"/>
<polygon points="594.8,623.2 602,623.2 602,636.2 593.6,636.2" fill="#fff"/>
<polygon points="604.8,623.2 610,623.2 613.8,636.2 605.8,636.2" fill="#fff"/>
<polygon points="616.8,623.2 618.4,623.2 625.7,636.2 620.5,636.2" fill="#fff"/>
<rect x="569" y="638.9" width="4" height="1.3" fill="#fff"/>
<rect x="576.4" y="638.9" width="4" height="1.3" fill="#fff"/>
<rect x="583.8" y="638.9" width="4" height="1.3" fill="#fff"/>
<rect x="591.2" y="638.9" width="4" height="1.3" fill="#fff"/>
<rect x="598.6" y="638.9" width="4" height="1.3" fill="#fff"/>
<rect x="606" y="638.9" width="4" height="1.3" fill="#fff"/>
<rect x="613.4" y="638.9" width="4" height="1.3" fill="#fff"/>
<rect x="620.8" y="638.9" width="4" height="1.3" fill="#fff"/>
<rect x="628.2" y="638.9" width="4" height="1.3" fill="#fff"/>
<rect x="569.3" y="642" width="2.6" height="34.4" fill="#fff"/>
<rect x="575.7" y="642" width="2.2" height="34.4" fill="#fff"/>
<rect x="579.3" y="642" width="5.8" height="34.4" fill="#fff"/>
<rect x="588.5" y="642" width="4.2" height="34.4" fill="#fff"/>
<rect x="595.7" y="642" width="6.6" height="34.4" fill="#fff"/>
<rect x="604.9" y="642" width="4.6" height="34.4" fill="#fff"/>
<rect x="612.1" y="642" width="6.2" height="34.4" fill="#fff"/>
<rect x="619.7" y="642" width="2.6" height="34.4" fill="#fff"/>
<rect x="625.7" y="642" width="2.6" height="34.4" fill="#fff"/>
<rect x="565.9" y="679.9" width="65.9" height="4.7" fill="#fff"/>
<rect x="563.8" y="684.6" width="70.4" height="27.6" fill="#1c1c1c"/>
<rect x="566.6" y="687.7" width="15.2" height="21.1" fill="#fff"/>
<rect x="587.7" y="687.7" width="22.2" height="21.1" fill="#fff"/>
<rect x="615.8" y="687.7" width="15.2" height="21.1" fill="#fff"/>
<rect x="566.6" y="690.8" width="15.2" height="6.7" fill="#1c1c1c"/>
<rect x="571.2" y="693.2" width="7.4" height="1.5" fill="#fff"/>
<rect x="615.8" y="690.8" width="15.2" height="6.7" fill="#1c1c1c"/>
<rect x="620.4" y="693.2" width="7.4" height="1.5" fill="#fff"/>
<rect x="583.8" y="688.5" width="1.5" height="19.5" fill="#fff"/>
<rect x="611.9" y="688.5" width="1.5" height="19.5" fill="#fff"/>
<line x1="391.5" y1="284.5" x2="391.5" y2="363" stroke="#1c1c1c" stroke-width="1.3" stroke-dasharray="12 11.3"/>
<line x1="497.5" y1="284.5" x2="497.5" y2="363" stroke="#1c1c1c" stroke-width="1.3" stroke-dasharray="12 11.3"/>
<line x1="598.5" y1="285.8" x2="598.5" y2="440" stroke="#1c1c1c" stroke-width="1.3" stroke-dasharray="13 11"/>
<line x1="394.1" y1="704.7" x2="394.1" y2="895" stroke="#1c1c1c" stroke-width="1.3" stroke-dasharray="14.5 11.9"/>
<line x1="496.5" y1="700.5" x2="496.5" y2="894" stroke="#1c1c1c" stroke-width="1.3" stroke-dasharray="14 12.3"/>
<line x1="600.2" y1="698.4" x2="600.2" y2="858" stroke="#1c1c1c" stroke-width="1.3" stroke-dasharray="12.5 12"/>
<line x1="182.6" y1="336" x2="182.6" y2="738" stroke="#1c1c1c" stroke-width="1.3" />
<polygon points="182.4,320 178.2,338 186.6,338" fill="#1c1c1c" stroke="#1c1c1c" stroke-width="0.7" stroke-linejoin="round"/>
<polygon points="182.2,755 178,737 186.4,737" fill="#1c1c1c" stroke="#1c1c1c" stroke-width="0.7" stroke-linejoin="round"/>
<g transform="translate(232.6,642) rotate(-90)">
<path transform="translate(0,-33) scale(1,1)" d="M1.7 10.5 V7.5 Q1.7 1.6 7.6 1.6 H16.6 Q22.5 1.6 22.5 7.5 V9.5 C22.5 17.5 1.7 16.5 1.7 25.5 V31.6 H24" fill="none" stroke="#1c1c1c" stroke-width="3.4" stroke-linejoin="round"/>
<path transform="translate(33.8,-33) scale(1,1)" d="M1.8 9.8 L10.6 1.8 M11.3 1.2 V33" fill="none" stroke="#1c1c1c" stroke-width="3.4" stroke-linejoin="round"/>
<path transform="translate(61.8,-33) scale(0.93,1)" d="M8.6 1.6 H17.8 Q24.8 1.6 24.8 8.6 V23.8 Q24.8 30.8 17.8 30.8 H8.6 Q1.6 30.8 1.6 23.8 V8.6 Q1.6 1.6 8.6 1.6 Z" fill="none" stroke="#1c1c1c" stroke-width="3.4" stroke-linejoin="round"/>
<path transform="translate(94.2,-33) scale(1,1)" d="M1.6 32.4 V10.4 H11.6 Q16.6 10.4 16.6 15.4 V32.4 M16.6 10.4 H26.2 Q31.2 10.4 31.2 15.4 V32.4" fill="none" stroke="#1c1c1c" stroke-width="3.4" stroke-linejoin="round"/>
<path transform="translate(134.2,-33) scale(1,1)" d="M1.6 32.4 V10.4 H11.6 Q16.6 10.4 16.6 15.4 V32.4 M16.6 10.4 H26.2 Q31.2 10.4 31.2 15.4 V32.4" fill="none" stroke="#1c1c1c" stroke-width="3.4" stroke-linejoin="round"/>
</g>
<line x1="575" y1="405" x2="575" y2="459" stroke="#1c1c1c" stroke-width="1.4" stroke-dasharray="5.5 5"/>
<line x1="623.1" y1="405" x2="623.1" y2="459" stroke="#1c1c1c" stroke-width="1.4" stroke-dasharray="5.5 5"/>
<line x1="592" y1="461" x2="606" y2="461" stroke="#1c1c1c" stroke-width="1.3" />
<polygon points="575.5,460.8 594,456.6 594,465" fill="#1c1c1c" stroke="#1c1c1c" stroke-width="0.7" stroke-linejoin="round"/>
<polygon points="623.1,460.8 604.2,456.6 604.2,465" fill="#1c1c1c" stroke="#1c1c1c" stroke-width="0.7" stroke-linejoin="round"/>
<path transform="translate(587,492.7) scale(1,1)" d="M27.1 9.4 V8.6 Q27.1 1.6 20.1 1.6 H8.6 Q1.6 1.6 1.6 8.6 V24.4 Q1.6 31.4 8.6 31.4 H20.1 Q27.1 31.4 27.1 24.4 V18.7 H15.6" fill="none" stroke="#1c1c1c" stroke-width="3.4" stroke-linejoin="round"/>
<path transform="translate(636.7,492.7) scale(1,1)" d="M1.5 9.5 V7.5 Q1.5 1.5 7.5 1.5 H15.8 Q21.8 1.5 21.8 7.5 V10 Q21.8 16 15.8 16 H9.8 M15.8 16 Q22.6 16 22.6 22.8 V25 Q22.6 31 16.6 31 H7.5 Q1.5 31 1.5 25 V22" fill="none" stroke="#1c1c1c" stroke-width="3.4" stroke-linejoin="round"/>
<path transform="translate(664,492.7) scale(1,1)" d="M11.8 0 L1 36.3" fill="none" stroke="#1c1c1c" stroke-width="3.4" stroke-linejoin="round"/>
<path transform="translate(680,492.7) scale(1,1)" d="M19.3 33.6 V1.2 M19.6 2.2 L1.6 24.6 V24 H26.1" fill="none" stroke="#1c1c1c" stroke-width="3.4" stroke-linejoin="round"/>
<line x1="410" y1="895.2" x2="480" y2="895.2" stroke="#1c1c1c" stroke-width="1.6" />
<polygon points="394.6,895.2 413.2,891 413.2,899.4" fill="#1c1c1c" stroke="#1c1c1c" stroke-width="0.7" stroke-linejoin="round"/>
<polygon points="494.4,895.2 476,891 476,899.4" fill="#1c1c1c" stroke="#1c1c1c" stroke-width="0.7" stroke-linejoin="round"/>
<path transform="translate(411.2,922.2) scale(1,1)" d="M23.4 1.6 H1.6 V13.2 H16 Q21.8 13.2 21.8 19 V25.4 Q21.8 31.2 16 31.2 H7.4 Q1.6 31.2 1.6 25.4 V23.4" fill="none" stroke="#1c1c1c" stroke-width="3.4" stroke-linejoin="round"/>
<path transform="translate(440.8,922.2) scale(1,1)" d="M8.6 1.6 H17.8 Q24.8 1.6 24.8 8.6 V23.8 Q24.8 30.8 17.8 30.8 H8.6 Q1.6 30.8 1.6 23.8 V8.6 Q1.6 1.6 8.6 1.6 Z" fill="none" stroke="#1c1c1c" stroke-width="3.4" stroke-linejoin="round"/>
<path transform="translate(474.4,922.2) scale(1,1)" d="M1.6 32.4 V10.4 H11.6 Q16.6 10.4 16.6 15.4 V32.4 M16.6 10.4 H26.2 Q31.2 10.4 31.2 15.4 V32.4" fill="none" stroke="#1c1c1c" stroke-width="3.4" stroke-linejoin="round"/>
<path transform="translate(512.8,922.2) scale(1,1)" d="M1.6 32.4 V10.4 H11.6 Q16.6 10.4 16.6 15.4 V32.4 M16.6 10.4 H26.2 Q31.2 10.4 31.2 15.4 V32.4" fill="none" stroke="#1c1c1c" stroke-width="3.4" stroke-linejoin="round"/>
<line x1="574.75" y1="837.5" x2="574.75" y2="885" stroke="#1c1c1c" stroke-width="1.4" stroke-dasharray="6.5 7"/>
<line x1="623.1" y1="837.5" x2="623.1" y2="885" stroke="#1c1c1c" stroke-width="1.4" stroke-dasharray="6.5 7"/>
<line x1="591" y1="893.4" x2="606" y2="893.4" stroke="#1c1c1c" stroke-width="1.3" />
<polygon points="575.9,893.4 593.1,889.3 593.1,897.5" fill="#1c1c1c" stroke="#1c1c1c" stroke-width="0.7" stroke-linejoin="round"/>
<polygon points="622.4,893.4 604.4,889.3 604.4,897.5" fill="#1c1c1c" stroke="#1c1c1c" stroke-width="0.7" stroke-linejoin="round"/>
<path transform="translate(604,922.2) scale(1,1)" d="M27.1 9.4 V8.6 Q27.1 1.6 20.1 1.6 H8.6 Q1.6 1.6 1.6 8.6 V24.4 Q1.6 31.4 8.6 31.4 H20.1 Q27.1 31.4 27.1 24.4 V18.7 H15.6" fill="none" stroke="#1c1c1c" stroke-width="3.4" stroke-linejoin="round"/>
<path transform="translate(653.7,922.2) scale(1,1)" d="M1.5 9.5 V7.5 Q1.5 1.5 7.5 1.5 H15.8 Q21.8 1.5 21.8 7.5 V10 Q21.8 16 15.8 16 H9.8 M15.8 16 Q22.6 16 22.6 22.8 V25 Q22.6 31 16.6 31 H7.5 Q1.5 31 1.5 25 V22" fill="none" stroke="#1c1c1c" stroke-width="3.4" stroke-linejoin="round"/>
<path transform="translate(681,922.2) scale(1,1)" d="M11.8 0 L1 36.3" fill="none" stroke="#1c1c1c" stroke-width="3.4" stroke-linejoin="round"/>
<path transform="translate(695.5,922.2) scale(1,1)" d="M19.3 33.6 V1.2 M19.6 2.2 L1.6 24.6 V24 H26.1" fill="none" stroke="#1c1c1c" stroke-width="3.4" stroke-linejoin="round"/>
<circle cx="222.5" cy="70.5" r="31.3" fill="none" stroke="#333" stroke-width="1.25"/>
<path transform="translate(213,53.5) scale(1,1)" d="M1.8 9.8 L10.6 1.8 M11.3 1.2 V33" fill="none" stroke="#1c1c1c" stroke-width="3.4" stroke-linejoin="round"/>
<circle cx="296" cy="70.5" r="31.3" fill="none" stroke="#333" stroke-width="1.25"/>
<path transform="translate(283.4,53.5) scale(1,1)" d="M23.4 1.6 H1.6 V13.2 H16 Q21.8 13.2 21.8 19 V25.4 Q21.8 31.2 16 31.2 H7.4 Q1.6 31.2 1.6 25.4 V23.4" fill="none" stroke="#1c1c1c" stroke-width="3.4" stroke-linejoin="round"/>
<circle cx="419.5" cy="70.5" r="31.3" fill="none" stroke="#333" stroke-width="1.25"/>
<path transform="translate(407,53.5) scale(1,1)" d="M1.7 10.5 V7.5 Q1.7 1.6 7.6 1.6 H16.6 Q22.5 1.6 22.5 7.5 V9.5 C22.5 17.5 1.7 16.5 1.7 25.5 V31.6 H24" fill="none" stroke="#1c1c1c" stroke-width="3.4" stroke-linejoin="round"/>
<circle cx="583.5" cy="70.5" r="31.3" fill="none" stroke="#333" stroke-width="1.25"/>
<path transform="translate(572.2,53.5) scale(1,1)" d="M0 1.6 H21.4 L4.4 33.4" fill="none" stroke="#1c1c1c" stroke-width="3.4" stroke-linejoin="round"/>
<circle cx="653" cy="70.5" r="31.3" fill="none" stroke="#333" stroke-width="1.25"/>
<path transform="translate(640.9,53.5) scale(1,1)" d="M1.5 9.5 V7.5 Q1.5 1.5 7.5 1.5 H15.8 Q21.8 1.5 21.8 7.5 V10 Q21.8 16 15.8 16 H9.8 M15.8 16 Q22.6 16 22.6 22.8 V25 Q22.6 31 16.6 31 H7.5 Q1.5 31 1.5 25 V22" fill="none" stroke="#1c1c1c" stroke-width="3.4" stroke-linejoin="round"/>
<circle cx="793" cy="457" r="31.3" fill="none" stroke="#333" stroke-width="1.25"/>
<path transform="translate(779.9,440) scale(1,1)" d="M19.3 33.6 V1.2 M19.6 2.2 L1.6 24.6 V24 H26.1" fill="none" stroke="#1c1c1c" stroke-width="3.4" stroke-linejoin="round"/>
<circle cx="420" cy="537" r="31.3" fill="none" stroke="#333" stroke-width="1.25"/>
<path transform="translate(407.5,520) scale(1,1)" d="M21.9 8.6 V7.6 Q21.9 1.6 15.9 1.6 H7.6 Q1.6 1.6 1.6 7.6 V26.2 Q1.6 32.2 7.6 32.2 H15.9 Q21.9 32.2 21.9 26.2 V21.3 Q21.9 15.5 15.9 15.5 H7.6 Q1.6 15.5 1.6 21.3" fill="none" stroke="#1c1c1c" stroke-width="3.4" stroke-linejoin="round"/>
<circle cx="793" cy="568" r="31.3" fill="none" stroke="#333" stroke-width="1.25"/>
<path transform="translate(780,551) scale(1,1)" d="M1.6 24.8 V26.2 Q1.6 32 7.6 32 H16.8 Q22.8 32 22.8 26.2 V7.6 Q22.8 1.6 16.8 1.6 H7.6 Q1.6 1.6 1.6 7.6 V13.2 Q1.6 19.2 7.6 19.2 H22.8" fill="none" stroke="#1c1c1c" stroke-width="3.4" stroke-linejoin="round"/>
<line x1="220.6" y1="102" x2="220.6" y2="262" stroke="#1c1c1c" stroke-width="1.25" />
<polygon points="220.6,276 216.6,258 224.6,258" fill="#1c1c1c" stroke="#1c1c1c" stroke-width="0.7" stroke-linejoin="round"/>
<line x1="285" y1="102" x2="285" y2="225" stroke="#1c1c1c" stroke-width="1.25" />
<polygon points="285,239 281,221 289,221" fill="#1c1c1c" stroke="#1c1c1c" stroke-width="0.7" stroke-linejoin="round"/>
<path d="M411.4 102 V119.4 H342 V145" fill="none" stroke="#1c1c1c" stroke-width="1.25" />
<polygon points="342,158 338,140 346,140" fill="#1c1c1c" stroke="#1c1c1c" stroke-width="0.7" stroke-linejoin="round"/>
<path d="M424.4 102 V120.4 H545.2 V145" fill="none" stroke="#1c1c1c" stroke-width="1.25" />
<polygon points="545.2,158 541.2,140 549.2,140" fill="#1c1c1c" stroke="#1c1c1c" stroke-width="0.7" stroke-linejoin="round"/>
<line x1="597.2" y1="102" x2="597.2" y2="140" stroke="#1c1c1c" stroke-width="1.25" />
<polygon points="597.2,154 593.2,136 601.2,136" fill="#1c1c1c" stroke="#1c1c1c" stroke-width="0.7" stroke-linejoin="round"/>
<line x1="641.6" y1="102" x2="641.6" y2="255" stroke="#1c1c1c" stroke-width="1.25" />
<polygon points="641.6,268 637.6,250 645.6,250" fill="#1c1c1c" stroke="#1c1c1c" stroke-width="0.7" stroke-linejoin="round"/>
<path d="M793 425.7 V391.8 H650" fill="none" stroke="#1c1c1c" stroke-width="1.25" />
<polygon points="636.5,391.8 654.5,387.8 654.5,395.8" fill="#1c1c1c" stroke="#1c1c1c" stroke-width="0.7" stroke-linejoin="round"/>
<path d="M388.7 538.5 H291.6 V516" fill="none" stroke="#1c1c1c" stroke-width="1.25" />
<polygon points="291.6,504 287.6,522 295.6,522" fill="#1c1c1c" stroke="#1c1c1c" stroke-width="0.7" stroke-linejoin="round"/>
<path d="M761.7 570 H602 V590" fill="none" stroke="#1c1c1c" stroke-width="1.25" />
<polygon points="602,605 598,587 606,587" fill="#1c1c1c" stroke="#1c1c1c" stroke-width="0.7" stroke-linejoin="round"/>
</svg></body></html>
